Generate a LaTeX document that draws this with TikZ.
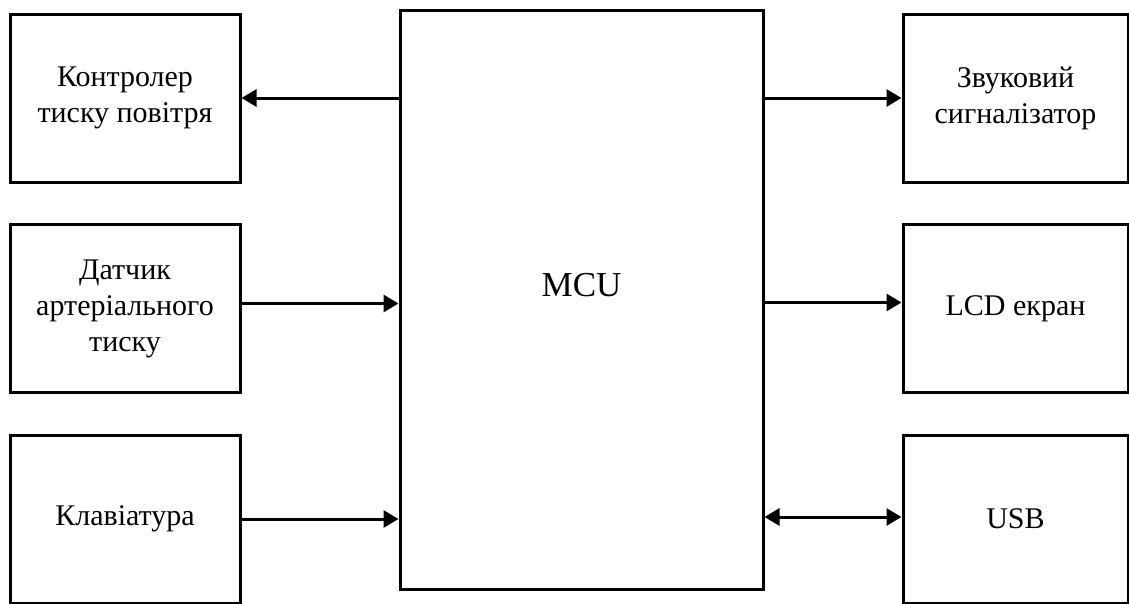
\documentclass[tikz,border=0pt]{standalone}
\usepackage{fontspec}
\setmainfont{Liberation Serif}
\usetikzlibrary{arrows.meta}

\begin{document}
\begin{tikzpicture}[
                x=1pt, y=-1pt,
                box/.style={
                    draw=black,
                    line width=3pt,
                    rectangle,
                    minimum width=230pt,
                    minimum height=168pt,
                    align=center,
                    inner sep=0pt,
                    font=\fontsize{30}{36}\selectfont
                },
                mcubox/.style={
                    box,
                    minimum width=363pt,
                    minimum height=579pt,
                    font=\fontsize{35}{40}\selectfont
                },
                arrow/.style={
                    -{Triangle[length=15pt,width=17pt]},
                    line width=3pt
                },
                dblarrow/.style={
                    {Triangle[length=15pt,width=17pt]}-{Triangle[length=15pt,width=17pt]},
                    line width=3pt
                }
            ]
                \useasboundingbox (0,0) rectangle (1129,603);

                \node[mcubox] (mcu) at (581.5,299.5) {\raisebox{14pt}[\height][\depth]{MCU}};

                \node[box] (ctrl) at (125,98)    {Контролер\\тиску повітря};
                \node[box] (sensor) at (125,308.5) {Датчик\\артеріального\\тиску};
                \node[box] (keys) at (125,519)   {Клавіатура};

                \node[box, minimum width=225pt] (buzzer) at (1015.5,98)  {Звуковий\\сигналізатор};
                \node[box, minimum width=225pt] (lcd) at (1015.5,308.5)  {LCD екран};
                \node[box, minimum width=225pt] (usb) at (1015.5,519)    {USB};

                \draw[arrow] (mcu.west |- ctrl.east) -- (ctrl.east);
                \draw[arrow] ([yshift=5pt]sensor.east) -- ([yshift=5pt]sensor.east -| mcu.west);
                \draw[arrow] (keys.east) -- (keys.east -| mcu.west);
                \draw[arrow] (mcu.east |- buzzer.west) -- (buzzer.west);
                \draw[arrow] ([yshift=6pt]mcu.east |- lcd.west) -- ([yshift=6pt]lcd.west);
                \draw[dblarrow] ([yshift=2pt]mcu.east |- usb.west) -- ([yshift=2pt]usb.west);
        \end{tikzpicture}
\end{document}
